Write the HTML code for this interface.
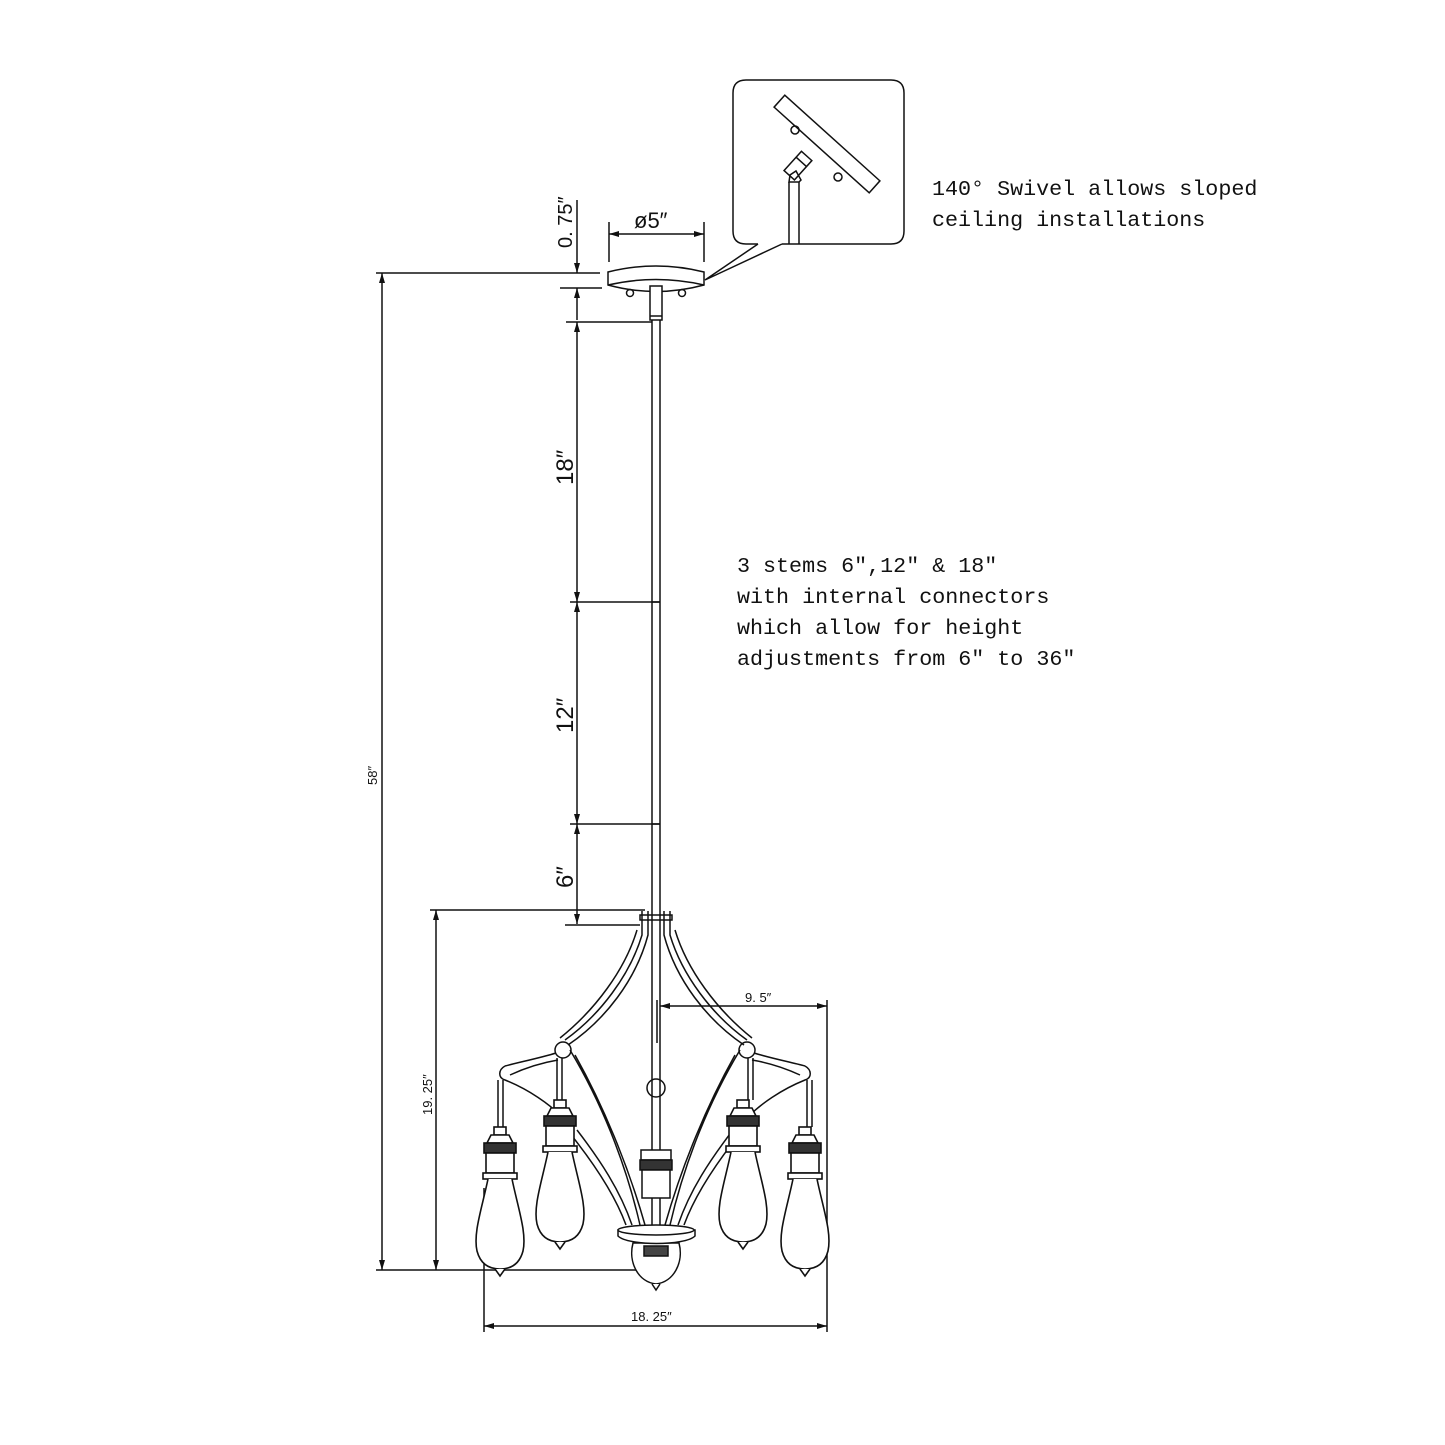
<!DOCTYPE html>
<html><head><meta charset="utf-8"><style>
html,body{margin:0;padding:0;background:#fff}
svg{display:block}
.t{font-family:"Liberation Mono",monospace;font-size:21.7px;fill:#111}
.d{font-family:"Liberation Sans",sans-serif;fill:#111}
</style></head><body>
<svg width="1445" height="1445" viewBox="0 0 1445 1445" xmlns="http://www.w3.org/2000/svg">
<defs>
<marker id="a" viewBox="0 0 10 6" refX="10" refY="3" markerWidth="10" markerHeight="6" orient="auto-start-reverse" markerUnits="userSpaceOnUse"><path d="M0,0 L10,3 L0,6 z" fill="#111"/></marker>
<g id="bulb" stroke="#111" stroke-width="1.6" fill="#fff">
<rect x="-6" y="-56" width="12" height="8"/>
<path d="M-13,-40 L-9,-48 L9,-48 L13,-40 z"/>
<rect x="-16" y="-40" width="32" height="10" fill="#333"/>
<rect x="-14" y="-30" width="28" height="20"/>
<rect x="-17" y="-10" width="34" height="6"/>
<path d="M-12,-4 C-18,25 -27,50 -23,68 C-19,83 -9,86 0,86 C9,86 19,83 23,68 C27,50 18,25 12,-4"/>
<path d="M-5,86 L0,93 L5,86"/>
</g>
</defs>
<g stroke="#111" stroke-width="1.5" fill="none">
<line x1="376" y1="273" x2="600" y2="273"/>
<line x1="376" y1="1270" x2="640" y2="1270"/>
<line x1="382" y1="273" x2="382" y2="1270" marker-start="url(#a)" marker-end="url(#a)"/>
<line x1="430" y1="910" x2="645" y2="910"/>
<line x1="436" y1="910" x2="436" y2="1270" marker-start="url(#a)" marker-end="url(#a)"/>
<line x1="577" y1="200" x2="577" y2="273" marker-end="url(#a)"/>
<line x1="560" y1="288" x2="602" y2="288"/>
<line x1="577" y1="288" x2="577" y2="320" marker-start="url(#a)"/>
<line x1="566" y1="322" x2="652" y2="322"/>
<line x1="577" y1="322" x2="577" y2="602" marker-start="url(#a)" marker-end="url(#a)"/>
<line x1="570" y1="602" x2="660" y2="602"/>
<line x1="577" y1="602" x2="577" y2="824" marker-start="url(#a)" marker-end="url(#a)"/>
<line x1="570" y1="824" x2="660" y2="824"/>
<line x1="577" y1="824" x2="577" y2="924" marker-start="url(#a)" marker-end="url(#a)"/>
<line x1="565" y1="925" x2="640" y2="925"/>
<line x1="609" y1="222" x2="609" y2="262"/>
<line x1="704" y1="222" x2="704" y2="262"/>
<line x1="609" y1="234" x2="704" y2="234" marker-start="url(#a)" marker-end="url(#a)"/>
<path d="M608,272 Q656,260 704,272 L704,285 Q656,298 608,285 z" fill="#fff"/>
<path d="M608,285 Q656,274 704,285"/>
<circle cx="630" cy="293" r="3.5"/><circle cx="682" cy="293" r="3.5"/>
<rect x="650" y="286" width="12" height="34" fill="#fff"/>
<line x1="650" y1="316" x2="662" y2="316"/>
<line x1="652" y1="320" x2="652" y2="1230"/>
<line x1="660" y1="320" x2="660" y2="1230"/>
<line x1="652" y1="602" x2="660" y2="602"/>
<line x1="652" y1="824" x2="660" y2="824"/>
<path d="M758,244 L746,244 Q733,244 733,231 L733,93 Q733,80 746,80 L891,80 Q904,80 904,93 L904,231 Q904,244 891,244 L782,244"/>
<path d="M758,244 L705,280 L782,244"/>
<g transform="translate(827,144) rotate(42)"><rect x="-64" y="-8" width="128" height="16" fill="#fff"/></g>
<circle cx="795" cy="130" r="4"/><circle cx="838" cy="177" r="4"/>
<g transform="translate(812,150) rotate(42)"><rect x="-7" y="8" width="14" height="26" fill="#fff"/><line x1="-7" y1="16" x2="7" y2="16"/></g>
<path d="M789,182 L790,175 L796,171 L801,180 L799,182 z"/>
<line x1="789" y1="182" x2="789" y2="244"/><line x1="799" y1="182" x2="799" y2="244"/>
<line x1="657" y1="1000" x2="657" y2="1043"/>
<line x1="827" y1="1000" x2="827" y2="1332"/>
<line x1="660" y1="1006" x2="827" y2="1006" marker-start="url(#a)" marker-end="url(#a)"/>
<line x1="484" y1="1188" x2="484" y2="1332"/>
<line x1="484" y1="1326" x2="827" y2="1326" marker-start="url(#a)" marker-end="url(#a)"/>
<g stroke-width="1.5">
<path d="M642,911 L642,935 C630,975 600,1015 565,1040"/>
<path d="M648,911 L648,935 C636,980 605,1020 568,1045"/>
<path d="M637,930 C625,970 595,1010 560,1038"/>
<path d="M670,911 L670,935 C682,975 712,1015 747,1040"/>
<path d="M664,911 L664,935 C676,980 707,1020 744,1045"/>
<path d="M675,930 C687,970 717,1010 752,1038"/>
<circle cx="563" cy="1050" r="8"/><circle cx="747" cy="1050" r="8"/>
<path d="M556,1053 C540,1058 520,1062 505,1066 M558,1060 C540,1063 525,1068 510,1075"/>
<path d="M754,1053 C770,1058 790,1062 805,1066 M752,1060 C770,1063 785,1068 800,1075"/>
<path d="M505,1066 C498,1070 498,1078 505,1080 C530,1090 550,1105 560,1115"/>
<path d="M805,1066 C812,1070 812,1078 805,1080 C780,1090 760,1105 750,1115"/>
<path d="M498,1080 L498,1127 M503,1080 L503,1127"/>
<path d="M807,1080 L807,1127 M812,1080 L812,1127"/>
<path d="M557,1058 L557,1100 M562,1058 L562,1100"/>
<path d="M748,1058 L748,1100 M753,1058 L753,1100"/>
<path d="M570,1050 C600,1100 625,1160 640,1225 M575,1055 C603,1105 628,1165 645,1225"/>
<path d="M740,1050 C710,1100 685,1160 670,1225 M735,1055 C707,1105 682,1165 665,1225"/>
<path d="M577,1130 C600,1160 620,1190 632,1225 M572,1136 C595,1165 615,1195 626,1225"/>
<path d="M733,1130 C710,1160 690,1190 678,1225 M738,1136 C715,1165 695,1195 684,1225"/>
<circle cx="656" cy="1088" r="9"/>
<rect x="640" y="915" width="32" height="5"/>
</g>
</g>
<g stroke="#111" stroke-width="1.5" fill="#fff">
<rect x="641" y="1150" width="30" height="10"/>
<rect x="640" y="1160" width="32" height="10" fill="#333"/>
<rect x="642" y="1170" width="28" height="28"/>
</g>
<use href="#bulb" x="500" y="1183"/>
<use href="#bulb" x="560" y="1156"/>
<use href="#bulb" x="743" y="1156"/>
<use href="#bulb" x="805" y="1183"/>
<g stroke="#111" stroke-width="1.5" fill="#fff">
<path d="M633,1243 C628,1262 638,1282 656,1284 C674,1282 684,1262 679,1243 z"/>
<path d="M652,1284 L656,1290 L660,1284"/>
<path d="M618,1230 L695,1230 L695,1236 C685,1246 628,1246 618,1236 z"/>
<ellipse cx="656" cy="1230" rx="38" ry="5"/>
<rect x="644" y="1246" width="24" height="10" fill="#444"/>
</g>
<text class="t" x="932" y="195">140° Swivel allows sloped</text>
<text class="t" x="932" y="226">ceiling installations</text>
<text class="t" x="737" y="572">3 stems 6″,12″ &amp; 18″</text>
<text class="t" x="737" y="603">with internal connectors</text>
<text class="t" x="737" y="634">which allow for height</text>
<text class="t" x="737" y="665">adjustments from 6″ to 36″</text>
<text class="d" x="634" y="228" font-size="22">ø5″</text>
<text class="d" font-size="20" transform="translate(572,248) rotate(-90)">0. 75″</text>
<text class="d" font-size="24" transform="translate(573,485) rotate(-90)">18″</text>
<text class="d" font-size="24" transform="translate(573,733) rotate(-90)">12″</text>
<text class="d" font-size="24" transform="translate(573,888) rotate(-90)">6″</text>
<text class="d" font-size="13" transform="translate(377,785) rotate(-90)">58″</text>
<text class="d" font-size="13" transform="translate(432,1115) rotate(-90)">19. 25″</text>
<text class="d" x="745" y="1002" font-size="13">9. 5″</text>
<text class="d" x="631" y="1321" font-size="13">18. 25″</text>
</svg>
</body></html>
